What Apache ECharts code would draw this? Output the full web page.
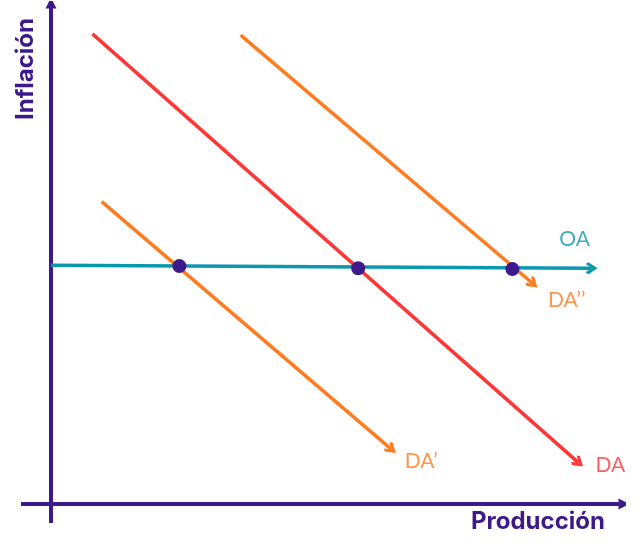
<!DOCTYPE html>
<html><head><meta charset="utf-8">
<script src="https://cdn.jsdelivr.net/npm/echarts@6/dist/echarts.min.js"></script>
<style>html,body{margin:0;padding:0;background:#fff}#c{width:643px;height:551px}</style>
</head><body><div id="c"></div>
<script>
// Data (arbitrary units)
const curveNames = ['OA', 'DA', 'DA’', 'DA’’'];
const OA  = [[0, 7.96], [18.02, 7.86]];
const DA  = [[1.38, 15.67], [17.58, 1.38]];
const DA1 = [[1.69, 10.08], [11.34, 1.83]];
const DA2 = [[6.32, 15.63], [16.06, 7.35]];
const equilibria = [[4.28, 7.93], [10.24, 7.86], [15.38, 7.83]];
const axisX = [[-1, 0], [19.1, 0]];
const axisY = [[0, -0.63], [0, 16.7]];
const axisTitles = ['Producción', 'Inflación'];

const PURPLE = '#3c1a8b', TEAL = '#0c97b0', RED = '#fe3636', ORANGE = '#ff7b1f';
const chevron = 'path://M0,0 L8,8 L5.6,10.4 L0,4.8 L-5.6,10.4 L-8,8 Z';

const curves = [
  {data: OA, color: TEAL, name: curveNames[0], off: [-17, -29]},
  {data: DA, color: RED, name: curveNames[1], off: [32, 3]},
  {data: DA1, color: ORANGE, name: curveNames[2], off: [30, 12]},
  {data: DA2, color: ORANGE, name: curveNames[3], off: [34, 17]}
];

const series = [];
[axisX, axisY].forEach(a => series.push({
  type: 'lines', coordinateSystem: 'cartesian2d', z: 2,
  symbol: ['none', 'triangle'], symbolSize: [14, 11],
  lineStyle: {color: PURPLE, width: 4, opacity: 1},
  data: [{coords: a}], silent: true
}));
curves.forEach((c, i) => {
  series.push({
    type: 'lines', coordinateSystem: 'cartesian2d', z: i === 0 ? 3 : 4,
    symbol: ['none', chevron], symbolSize: [16, 12],
    lineStyle: {color: c.color, width: 3.5, opacity: 1},
    data: [{coords: c.data}], silent: true
  });
  series.push({
    type: 'scatter', symbolSize: 0, z: 6, silent: true,
    data: [c.data[1]],
    label: {show: true, formatter: c.name, position: 'inside', offset: c.off,
      color: c.color, fontSize: 21, fontFamily: 'Lato', fontWeight: 400}
  });
});
series.push({
  type: 'scatter', z: 5, symbolSize: 14, silent: true,
  itemStyle: {color: PURPLE, opacity: 1},
  data: equilibria
});

const chart = echarts.init(document.getElementById('c'));
chart.setOption({
  animation: false,
  grid: {left: 21, right: 19, top: 3, bottom: 28, outerBoundsMode: 'none'},
  xAxis: {type: 'value', min: -1, max: 19.1, show: false},
  yAxis: {type: 'value', min: -0.633, max: 16.7, show: false},
  series: series,
  graphic: [
    {type: 'text', x: 538, y: 522, style: {text: axisTitles[0], fill: PURPLE,
      font: 'bold 24px Inter', align: 'center', verticalAlign: 'middle'}},
    {type: 'text', x: 26, y: 69, rotation: Math.PI / 2, style: {text: axisTitles[1], fill: PURPLE,
      font: 'bold 24px Inter', align: 'center', verticalAlign: 'middle'}}
  ]
});
</script></body></html>
